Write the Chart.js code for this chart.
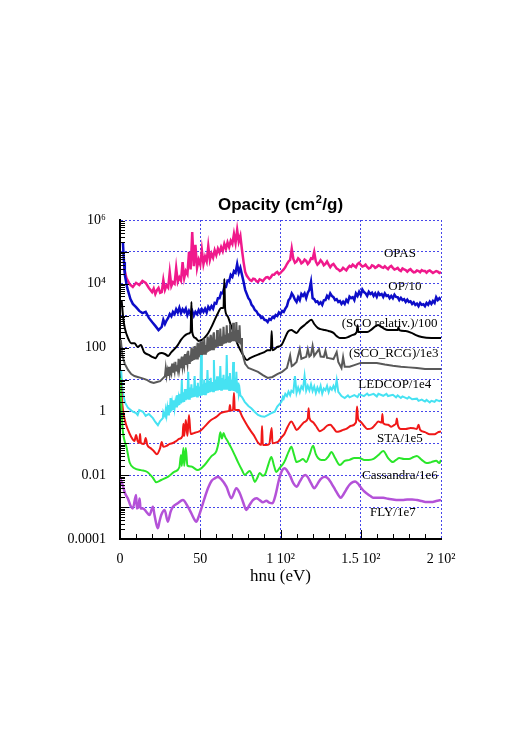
<!DOCTYPE html>
<html>
<head>
<meta charset="utf-8">
<title>Opacity</title>
<script src="https://cdn.jsdelivr.net/npm/chart.js@4/dist/chart.umd.min.js"></script>
<style>
  html, body { margin: 0; padding: 0; background: #fff; }
  canvas { display: block; }
</style>
</head>
<body>
<canvas id="opacityChart" width="529" height="748"></canvas>
<script>
// photon energy (eV) paired with log10 of the opacity
const opas = [[2.5,4.50],[4,4.18],[6,3.99],[8,3.90],[10,4.03],[12,3.96],[14,4.09],[16,4.03],[18,3.87],[20,3.74],[21,3.85],[22,3.68],[23,3.80],[24,3.87],[25,3.72],[26,3.74],[27,4.12],[28,3.81],[29,3.95],[30,3.88],[31,4.37],[32,3.93],[33,4.05],[34,4.00],[35,4.50],[36,4.06],[37,4.20],[38,4.10],[39,4.68],[40,4.18],[41,4.40],[42,4.30],[43,5.00],[44,4.45],[45,5.62],[46,4.55],[47,5.22],[48,4.50],[49,4.75],[50,4.60],[51,5.06],[52,4.62],[53,4.85],[54,4.70],[55,5.18],[56,4.75],[57,4.95],[58,4.82],[59,5.05],[60,4.90],[61,5.10],[62,4.98],[63,5.15],[64,5.02],[65,5.25],[66,5.10],[67,5.30],[68,5.15],[69,5.35],[70,5.25],[71,5.56],[72,5.28],[73,5.69],[74,5.32],[75,5.50],[76,5.06],[77,4.68],[78,4.37],[79,4.25],[80,4.18],[81,4.12],[82,4.09],[83,4.16],[84,4.15],[85,4.08],[86,4.06],[87,4.14],[88,4.12],[89,4.08],[90,4.15],[91,4.20],[92,4.21],[93,4.16],[94,4.21],[95,4.28],[96,4.28],[97,4.34],[98,4.37],[99,4.30],[100,4.34],[101,4.40],[102,4.45],[103,4.52],[104,4.62],[105,4.70],[106,4.75],[107,5.10],[108,4.78],[109,4.66],[110,4.70],[111,4.80],[112,4.75],[113,4.64],[114,4.68],[115,4.76],[116,4.72],[117,4.62],[118,4.68],[119,4.80],[120,4.78],[121,5.00],[122,4.70],[123,4.60],[124,4.65],[125,4.74],[126,4.68],[127,4.58],[128,4.62],[129,4.70],[130,4.60],[131,4.52],[132,4.59],[133,4.62],[134,4.55],[135,4.48],[136,4.45],[137,4.40],[138,4.43],[139,4.50],[140,4.46],[141,4.42],[142,4.50],[143,4.56],[144,4.53],[145,4.60],[146,4.56],[147,4.52],[148,4.62],[149,4.66],[150,4.59],[151,4.54],[152,4.56],[153,4.60],[154,4.53],[155,4.48],[156,4.50],[157,4.58],[158,4.56],[159,4.50],[160,4.53],[161,4.58],[162,4.56],[163,4.52],[164,4.50],[165,4.55],[166,4.50],[167,4.46],[168,4.53],[169,4.56],[170,4.50],[171,4.45],[172,4.47],[173,4.50],[174,4.43],[175,4.40],[176,4.48],[177,4.45],[178,4.43],[179,4.38],[180,4.43],[181,4.46],[182,4.40],[183,4.36],[184,4.37],[185,4.42],[186,4.40],[187,4.36],[188,4.43],[189,4.40],[190,4.40],[191,4.35],[192,4.40],[193,4.42],[194,4.38],[195,4.34],[196,4.37],[197,4.40],[198,4.38],[199,4.34],[200,4.37]];

const op10 = [[1.8,5.31],[2.5,4.68],[3,4.28],[4.5,3.87],[6.5,3.52],[8,3.37],[10,3.27],[12,3.15],[14,3.08],[16,3.12],[18,2.93],[20,2.80],[22,2.68],[24,2.55],[26,2.65],[27,2.87],[28,2.74],[29,2.85],[30,2.93],[31,3.05],[32,2.98],[33,3.12],[34,3.05],[35,3.20],[36,3.10],[37,3.25],[38,3.08],[39,3.20],[40,3.12],[41,3.22],[42,3.02],[43,3.15],[44,3.05],[45,3.15],[46,3.00],[47,3.12],[48,3.05],[49,3.18],[50,3.08],[51,3.20],[52,3.12],[53,3.22],[54,3.10],[55,3.28],[56,3.20],[57,3.30],[58,3.22],[59,3.40],[60,3.38],[61,3.55],[62,3.55],[63,3.72],[64,3.70],[65,3.90],[66,3.90],[67,4.10],[68,4.08],[69,4.28],[70,4.22],[71,4.40],[72,4.35],[73,4.62],[74,4.35],[75,4.50],[76,4.28],[77,4.06],[78,3.81],[80,3.55],[81,3.48],[82,3.34],[83,3.28],[84,3.18],[85,3.14],[86,3.05],[87,3.02],[88,2.93],[89,2.95],[90,2.87],[91,2.86],[92,2.80],[93,2.90],[94,2.87],[95,2.96],[96,2.93],[97,3.02],[98,2.99],[99,3.10],[100,3.05],[101,3.15],[102,3.12],[103,3.22],[104,3.30],[105,3.48],[106,3.55],[107,3.70],[108,3.62],[109,3.50],[110,3.43],[111,3.58],[112,3.49],[113,3.68],[114,3.62],[115,3.70],[116,3.55],[117,3.72],[118,3.81],[119,4.06],[120,3.55],[121,3.52],[122,3.43],[123,3.45],[124,3.37],[125,3.42],[126,3.34],[127,3.48],[128,3.49],[129,3.62],[130,3.55],[131,3.70],[132,3.62],[133,3.58],[134,3.49],[135,3.52],[136,3.43],[137,3.46],[138,3.37],[139,3.44],[140,3.37],[141,3.50],[142,3.43],[143,3.60],[144,3.55],[145,3.58],[146,3.49],[147,3.70],[148,3.62],[149,3.75],[150,3.65],[151,3.82],[152,3.74],[153,3.70],[154,3.62],[155,3.75],[156,3.68],[157,3.72],[158,3.62],[159,3.70],[160,3.59],[161,3.72],[162,3.65],[163,3.68],[164,3.59],[165,3.70],[166,3.62],[167,3.64],[168,3.55],[169,3.62],[170,3.55],[171,3.66],[172,3.59],[173,3.58],[174,3.49],[175,3.56],[176,3.49],[177,3.52],[178,3.43],[179,3.50],[180,3.43],[181,3.45],[182,3.37],[183,3.42],[184,3.34],[185,3.38],[186,3.30],[187,3.40],[188,3.34],[189,3.36],[190,3.30],[191,3.40],[192,3.34],[193,3.44],[194,3.37],[195,3.46],[196,3.40],[197,3.58],[198,3.49],[199,3.55],[200,3.49]];

const scoRelativ = [[1,3.49],[2,2.93],[3,2.61],[5,2.30],[7,2.14],[9,2.14],[11,2.02],[13,2.08],[15,1.86],[18,1.77],[20,1.71],[22,1.67],[24,1.80],[26,1.83],[28,1.80],[30,1.74],[32,1.86],[34,1.96],[36,2.08],[38,2.24],[40,2.36],[42,2.43],[44,2.49],[44.5,3.43],[45,2.49],[47,2.30],[49,2.21],[51,2.24],[53,2.33],[55,2.46],[57,2.65],[59,2.87],[61,3.08],[63,3.24],[64.5,3.24],[65,4.15],[65.5,3.21],[67,2.99],[69,2.71],[71,2.43],[73,2.14],[75,1.92],[77,1.74],[79,1.61],[81,1.67],[84,1.74],[87,1.80],[90,1.86],[92,1.92],[94,1.92],[94.5,2.52],[95,1.92],[98,2.02],[100.6,2.08],[102.5,2.27],[104.7,2.50],[106.8,2.55],[108.5,2.50],[110,2.46],[112,2.58],[115,2.71],[117,2.80],[119.3,2.87],[121,2.74],[123.4,2.61],[125,2.58],[127.6,2.55],[130,2.52],[133,2.46],[135,2.36],[137,2.30],[140,2.30],[142,2.33],[145,2.40],[147.5,2.49],[148,2.70],[148.5,2.49],[151,2.49],[154,2.49],[157,2.58],[160.7,2.71],[162.5,2.66],[164,2.61],[167,2.55],[170,2.55],[173,2.55],[173.5,2.64],[174,2.55],[178,2.52],[181.7,2.46],[184,2.40],[188,2.33],[194,2.30],[200,2.30]];

const scoRcg = [[0.5,2.24],[1.5,1.74],[3,1.49],[5,1.30],[7,1.17],[9,1.11],[11,1.08],[13,1.05],[15,1.02],[17,0.98],[19,0.92],[21,0.89],[23,0.92],[25,0.95],[27,1.05],[28,1.10],[28.5,1.35],[29,1.12],[29.5,1.28],[30,1.14],[30.5,1.40],[31,1.16],[31.5,1.30],[32,1.20],[32.5,1.50],[33,1.22],[33.5,1.38],[34,1.25],[34.5,1.55],[35,1.28],[35.5,1.45],[36,1.30],[36.5,1.65],[37,1.33],[37.5,1.50],[38,1.36],[38.5,1.72],[39,1.40],[39.5,1.58],[40,1.43],[40.5,1.80],[41,1.46],[41.5,1.66],[42,1.49],[42.5,1.90],[43,1.52],[43.5,1.75],[44,1.55],[44.5,2.00],[45,1.58],[45.5,1.80],[46,1.61],[46.5,2.05],[47,1.63],[47.5,1.88],[48,1.66],[48.5,2.15],[49,1.69],[49.5,1.95],[50,1.72],[50.5,2.20],[51,1.75],[51.5,2.00],[52,1.78],[52.5,2.28],[53,1.81],[53.5,2.08],[54,1.84],[54.5,2.35],[55,1.87],[55.5,2.12],[56,1.90],[56.5,2.40],[57,1.92],[57.5,2.18],[58,1.95],[58.5,2.48],[59,1.98],[59.5,2.25],[60,2.00],[60.5,2.55],[61,2.03],[61.5,2.30],[62,2.05],[62.5,2.60],[63,2.08],[63.5,2.35],[64,2.10],[64.5,2.65],[65,2.12],[65.5,2.40],[66,2.14],[66.5,2.70],[67,2.16],[67.5,2.45],[68,2.18],[68.5,2.72],[69,2.18],[69.5,2.50],[70,2.20],[70.5,2.78],[71,2.20],[71.5,2.50],[72,2.20],[72.5,2.80],[73,2.18],[73.5,2.55],[74,2.15],[74.5,2.70],[75,2.10],[75.5,2.30],[76,1.92],[77,1.67],[78,1.49],[80,1.36],[83,1.30],[86,1.24],[89,1.14],[92,1.05],[95,1.08],[98,1.17],[101,1.24],[104,1.36],[106,1.75],[107,1.42],[108,1.45],[110,1.55],[112,1.95],[113,1.65],[116,1.71],[117,1.95],[118,1.72],[119,1.77],[120,2.05],[121,1.74],[124,1.95],[125,1.72],[127,1.71],[128,1.90],[129,1.68],[130,1.67],[133,1.64],[135,1.86],[136,1.55],[138,1.36],[139,1.70],[140,1.40],[143,1.40],[146,1.45],[150,1.52],[155,1.52],[160,1.52],[165,1.47],[170,1.43],[175,1.40],[180,1.38],[185,1.36],[190,1.33],[195,1.33],[200,1.33]];

const ledcop = [[0.7,1.30],[1.5,0.67],[3,0.29],[5,0.11],[8,-0.01],[10,-0.05],[11,-0.11],[12,0.04],[14.3,-0.01],[16,-0.14],[17,-0.11],[18,-0.08],[20.5,-0.21],[22,-0.33],[23.6,-0.43],[25,-0.30],[26.7,-0.21],[27,-0.02],[28,-0.14],[28.5,0.05],[29,-0.12],[29.5,0.10],[30,-0.10],[30.5,0.20],[31,-0.05],[31.5,0.42],[32,0.00],[32.5,0.25],[33,0.05],[33.5,0.35],[34,0.10],[34.5,0.30],[35,0.15],[35.5,0.51],[36,0.18],[36.5,0.40],[37,0.20],[37.5,0.55],[38,0.25],[38.5,0.98],[39,0.28],[39.5,0.60],[40,0.30],[40.5,0.70],[41,0.35],[41.5,0.62],[42,0.38],[42.5,1.24],[43,0.40],[43.5,0.75],[44,0.42],[44.5,0.85],[45,0.44],[45.5,0.72],[46,0.45],[46.5,1.11],[47,0.46],[47.5,0.80],[48,0.47],[48.5,0.90],[49,0.48],[49.5,0.78],[50,0.48],[50.5,1.77],[51,0.50],[51.5,0.85],[52,0.52],[52.5,1.00],[53,0.54],[53.5,0.90],[54,0.56],[54.5,1.30],[55,0.58],[55.5,0.95],[56,0.60],[56.5,1.05],[57,0.62],[57.5,0.92],[58,0.63],[58.5,1.61],[59,0.64],[59.5,1.00],[60,0.65],[60.5,1.10],[61,0.66],[61.5,0.98],[62,0.67],[62.5,1.42],[63,0.68],[63.5,1.05],[64,0.68],[64.5,1.15],[65,0.68],[65.5,1.00],[66,0.68],[66.5,1.77],[67,0.68],[67.5,1.10],[68,0.67],[68.5,1.20],[69,0.66],[69.5,1.00],[70,0.65],[70.5,1.55],[71,0.64],[71.5,1.05],[72,0.62],[72.5,1.24],[73,0.60],[73.5,0.90],[74,0.55],[74.5,0.70],[75,0.50],[76,0.45],[77.7,0.30],[80,0.17],[81.8,0.10],[84,-0.02],[86,-0.11],[88,-0.15],[90,-0.17],[92,-0.12],[94,-0.06],[96.4,-0.01],[98,0.15],[100.6,0.30],[101.5,0.45],[102,0.40],[103,0.55],[104,0.48],[105,0.62],[106,0.51],[106.8,0.65],[108,0.60],[109,1.11],[110,0.58],[111,0.75],[112,0.60],[113,0.78],[114,0.70],[115,1.11],[116,0.65],[117,0.80],[118,0.66],[119,0.85],[120,0.64],[121,0.78],[122,0.58],[123,0.75],[124,0.62],[125,0.80],[126,0.56],[127,0.72],[128,0.66],[129,0.80],[130,0.60],[131,0.75],[132,0.68],[133,0.80],[134,0.67],[135,0.98],[136,0.61],[137,0.55],[138,0.48],[140,0.42],[142,0.50],[143,0.44],[146,0.51],[148,0.45],[149,0.54],[152,0.48],[154,0.56],[155,0.50],[158,0.55],[160,0.47],[161,0.55],[164,0.49],[166,0.55],[167,0.48],[170,0.52],[172,0.44],[173,0.50],[175,0.42],[176,0.47],[179,0.40],[180,0.45],[182,0.38],[185,0.40],[186,0.33],[188,0.37],[190,0.31],[191,0.36],[193,0.28],[194,0.33],[196,0.30],[197,0.36],[199,0.32],[200,0.36]];

const sta = [[0.5,0.98],[1.5,0.20],[3,-0.27],[5,-0.58],[7,-0.80],[9,-0.93],[10,-0.74],[11,-0.93],[12,-0.99],[12.5,-0.71],[13,-0.99],[15,-1.02],[16,-0.83],[17,-1.05],[19,-1.15],[21,-1.24],[23,-1.34],[25,-1.15],[26,-0.96],[27,-1.11],[29,-1.08],[31,-1.02],[33,-0.99],[35,-0.93],[37,-0.86],[39,-0.77],[39.5,-0.39],[40,-0.77],[41,-0.27],[42,-0.77],[43,-0.11],[44,-0.71],[46,-0.68],[48,-0.65],[50,-0.61],[53,-0.46],[56,-0.30],[60,-0.17],[63,-0.05],[66.3,0.00],[68,0.02],[68.5,0.20],[69,0.03],[70.4,0.04],[71,0.58],[71.5,0.05],[74,0.04],[76,-0.15],[78,-0.33],[80,-0.50],[82,-0.65],[84,-0.80],[86,-0.98],[88,-1.05],[88.5,-0.46],[89,-1.05],[91,-1.05],[93,-1.02],[94.5,-0.52],[95,-1.00],[97,-0.98],[98.5,-0.95],[100.5,-0.82],[102.6,-0.69],[104.5,-0.48],[106.8,-0.32],[108.5,-0.45],[110,-0.58],[113,-0.43],[115,-0.33],[117,-0.22],[117.5,0.10],[118,-0.20],[120,-0.33],[122,-0.45],[124.5,-0.62],[127,-0.55],[129,-0.45],[131,-0.42],[133,-0.52],[135,-0.64],[137,-0.62],[139,-0.58],[141,-0.55],[144,-0.45],[147,-0.35],[147.7,0.15],[148.3,-0.22],[150,-0.33],[152,-0.45],[154,-0.55],[156.7,-0.53],[159,-0.42],[161,-0.32],[163,-0.35],[163.5,-0.08],[164,-0.37],[167,-0.42],[169,-0.48],[171,-0.42],[172,-0.37],[172.5,-0.22],[173,-0.40],[175,-0.55],[178,-0.55],[181,-0.52],[183,-0.53],[185,-0.55],[186,-0.42],[187,-0.58],[190,-0.65],[193,-0.72],[196,-0.72],[198,-0.66],[200,-0.63]];

const cassandra = [[0.2,1.05],[1,0.04],[1.7,-0.58],[3,-0.95],[4,-1.11],[6,-1.60],[9,-1.78],[13,-1.84],[17,-1.90],[20.5,-2.08],[22.6,-2.22],[25.7,-2.15],[29.8,-2.05],[34,-1.89],[37,-1.75],[38,-1.37],[38.5,-1.71],[39.5,-1.15],[40,-1.71],[41,-1.15],[42,-1.70],[44.4,-1.73],[48.5,-1.84],[52.7,-1.68],[57,-1.40],[60,-1.25],[61.5,-0.96],[62.5,-0.65],[63.5,-0.85],[64.5,-0.68],[65.5,-0.80],[67,-0.93],[69.4,-1.15],[71.5,-1.37],[73.5,-1.59],[76,-1.84],[77.7,-1.99],[80.8,-1.87],[82.5,-2.02],[84,-2.21],[85.5,-2.09],[87,-1.93],[89,-2.02],[90.5,-1.96],[92.5,-1.65],[94.3,-1.43],[96,-1.71],[97.4,-1.90],[99.5,-1.77],[101.6,-1.65],[103,-1.52],[105,-1.27],[106.8,-1.11],[108.5,-1.37],[110,-1.59],[112,-1.55],[114,-1.49],[116,-1.59],[118,-1.37],[120.3,-1.08],[122,-1.34],[123.4,-1.46],[125.5,-1.52],[127.6,-1.52],[130,-1.40],[131.7,-1.27],[134,-1.46],[137,-1.68],[140,-1.55],[143,-1.52],[146,-1.46],[149,-1.46],[152,-1.52],[155,-1.52],[158,-1.49],[161,-1.37],[164,-1.24],[167,-1.46],[170,-1.59],[172,-1.52],[174,-1.46],[177,-1.49],[180,-1.49],[183,-1.43],[185,-1.40],[188,-1.52],[191,-1.62],[194,-1.59],[197,-1.55],[199,-1.62],[200,-1.52]];

const fly = [[0,-2.09],[1.7,-2.31],[3,-2.55],[4.9,-2.73],[6.5,-2.95],[8,-3.04],[10,-2.62],[10.5,-3.04],[11.5,-3.00],[12.2,-2.73],[12.8,-3.04],[14.3,-3.04],[16.3,-3.14],[18.4,-3.25],[20.5,-2.99],[21.5,-3.25],[22.5,-3.50],[23.6,-3.66],[24.6,-3.45],[25.7,-3.25],[27.8,-3.09],[29.8,-3.46],[31.5,-3.15],[33,-2.99],[36,-2.88],[39.2,-2.78],[42.3,-2.99],[44.5,-3.20],[46.5,-3.40],[47.5,-3.46],[49,-3.30],[50.7,-3.04],[52.5,-2.75],[54.8,-2.41],[57,-2.18],[59,-2.10],[61,-2.06],[63,-2.12],[66.3,-2.36],[69.4,-2.72],[72.5,-2.41],[74.5,-2.55],[76.6,-2.83],[78.7,-3.09],[80.5,-2.95],[82.8,-2.78],[85,-2.72],[87,-2.78],[89,-2.85],[91.2,-2.80],[93,-2.86],[95,-2.88],[97,-2.60],[99,-2.15],[101,-1.85],[102.5,-1.78],[104,-1.85],[106,-2.02],[108,-2.25],[110,-2.36],[112,-2.20],[114,-2.04],[115.5,-1.99],[117,-2.06],[119,-2.25],[121,-2.41],[123,-2.28],[125,-2.12],[127.6,-2.05],[130,-2.12],[132,-2.28],[134,-2.45],[136,-2.62],[137.5,-2.71],[139,-2.62],[141,-2.45],[143,-2.30],[145,-2.22],[146.5,-2.20],[148,-2.25],[150,-2.38],[152,-2.50],[154,-2.58],[156,-2.65],[158,-2.71],[161,-2.71],[164,-2.71],[167,-2.74],[170,-2.76],[173,-2.78],[176,-2.78],[179,-2.76],[182,-2.76],[185,-2.78],[188,-2.81],[191,-2.84],[194,-2.84],[197,-2.81],[200,-2.78]];

const curveNames = ['OPAS', 'OP/10', '(SCO relativ.)/100', '(SCO_RCG)/1e3', 'LEDCOP/1e4', 'STA/1e5', 'Cassandra/1e6', 'FLY/1e7'];
const curveData = [opas, op10, scoRelativ, scoRcg, ledcop, sta, cassandra, fly];

// where each curve name sits, in data units (eV, log10 opacity)
const labelAnchorE = [174.4, 177.5, 168, 170.6, 171.2, 174.4, 174.4, 170];
const labelAnchorLog = [4.84, 3.81, 2.65, 1.71, 0.73, -0.96, -2.12, -3.28];

const xTickValues = [0, 50, 100, 150, 200];
const xTickLabels = ['0', '50', '1 10\u00b2', '1.5 10\u00b2', '2 10\u00b2'];
const yTickValues = [1e-4, 1e-3, 1e-2, 1e-1, 1, 10, 100, 1e3, 1e4, 1e5, 1e6];
const yTickLabels = ['0.0001', '', '0.01', '', '1', '', '100', '', '10\u2074', '', '10\u2076'];

const colors = ['#f0198c', '#0d0dc8', '#000000', '#595959', '#46e2f2', '#f01818', '#2ae62a', '#b452d8'];
const widths = [2.5, 2.5, 2, 2, 2, 2, 2, 2.5];
const smooth = [false, false, true, false, false, true, true, true];

const serif = '"Liberation Serif", "Times New Roman", serif';

// ticks on the inside of the left and bottom axes, title, curve names
const decorations = {
    id: 'decorations',
    afterDraw(chart) {
        const { ctx, chartArea, scales: { x, y } } = chart;
        ctx.save();
        ctx.strokeStyle = '#000';
        ctx.lineWidth = 1;
        ctx.beginPath();
        for (let e = -4; e < 6; e++) {
            for (let m = 1; m < 10; m++) {
                const py = Math.round(y.getPixelForValue(m * Math.pow(10, e))) + 0.5;
                const len = m === 1 ? 9 : 5;
                ctx.moveTo(chartArea.left, py);
                ctx.lineTo(chartArea.left + len, py);
            }
        }
        for (let v = 10; v < 200; v += 10) {
            const px = Math.round(x.getPixelForValue(v)) + 0.5;
            const len = v % 50 === 0 ? 9 : 5;
            ctx.moveTo(px, chartArea.bottom);
            ctx.lineTo(px, chartArea.bottom - len);
        }
        ctx.stroke();

        // curve names
        ctx.fillStyle = '#000';
        ctx.font = '13px ' + serif;
        ctx.textAlign = 'center';
        ctx.textBaseline = 'alphabetic';
        curveNames.forEach((name, i) => {
            const px = x.getPixelForValue(labelAnchorE[i]);
            const py = y.getPixelForValue(Math.pow(10, labelAnchorLog[i]));
            ctx.fillText(name, px, py);
        });

        // title with a raised 2
        const main = 'bold 17px "Liberation Sans", Arial, sans-serif';
        const sup = 'bold 11px "Liberation Sans", Arial, sans-serif';
        const a = 'Opacity (cm', b = '2', c = '/g)';
        ctx.textAlign = 'left';
        ctx.font = main;
        const wa = ctx.measureText(a).width, wc = ctx.measureText(c).width;
        ctx.font = sup;
        const wb = ctx.measureText(b).width + 1;
        const tx = (chartArea.left + chartArea.right) / 2 - (wa + wb + wc) / 2;
        const ty = 210;
        ctx.font = main;
        ctx.fillText(a, tx, ty);
        ctx.font = sup;
        ctx.fillText(b, tx + wa + 0.5, ty - 7);
        ctx.font = main;
        ctx.fillText(c, tx + wa + wb, ty);
        ctx.restore();
    }
};

document.addEventListener('DOMContentLoaded', () => {
    const ctx = document.getElementById('opacityChart').getContext('2d');

    new Chart(ctx, {
        type: 'line',
        data: {
            datasets: curveData.map((points, i) => ({
                label: curveNames[i],
                data: points.map(([e, lg]) => ({ x: e, y: Math.pow(10, lg) })),
                borderColor: colors[i],
                borderWidth: widths[i],
                pointRadius: 0,
                fill: false,
                tension: 0,
                cubicInterpolationMode: smooth[i] ? 'monotone' : 'default',
                order: curveData.length - i,
                clip: 0
            }))
        },
        options: {
            responsive: false,
            animation: false,
            layout: {
                padding: { left: 0, right: 88, top: 220, bottom: 149 }
            },
            scales: {
                x: {
                    type: 'linear',
                    min: 0,
                    max: 200,
                    afterBuildTicks: (scale) => { scale.ticks = xTickValues.map(v => ({ value: v })); },
                    afterFit: (scale) => { scale.height = 60; },
                    grid: { color: '#4646ea', lineWidth: 1, drawTicks: false },
                    border: { display: true, color: '#000', width: 2, dash: [2, 2] },
                    ticks: {
                        autoSkip: false,
                        maxRotation: 0,
                        padding: 12,
                        color: '#000',
                        font: { family: serif, size: 14 },
                        callback: (v, i) => xTickLabels[i]
                    },
                    title: {
                        display: true,
                        text: 'hnu (eV)',
                        color: '#000',
                        font: { family: serif, size: 17 },
                        padding: { top: 0, bottom: 12 }
                    }
                },
                y: {
                    type: 'logarithmic',
                    min: 1e-4,
                    max: 1e6,
                    afterBuildTicks: (scale) => { scale.ticks = yTickValues.map(v => ({ value: v })); },
                    afterFit: (scale) => { scale.width = 120; },
                    grid: { color: '#4646ea', lineWidth: 1, drawTicks: false },
                    border: { display: true, color: '#000', width: 2, dash: [2, 2] },
                    ticks: {
                        autoSkip: false,
                        padding: 14,
                        color: '#000',
                        font: { family: serif, size: 14 },
                        callback: (v, i) => yTickLabels[i]
                    }
                }
            },
            plugins: {
                legend: { display: false },
                tooltip: { enabled: false }
            }
        },
        plugins: [decorations]
    });
});
</script>
</body>
</html>
